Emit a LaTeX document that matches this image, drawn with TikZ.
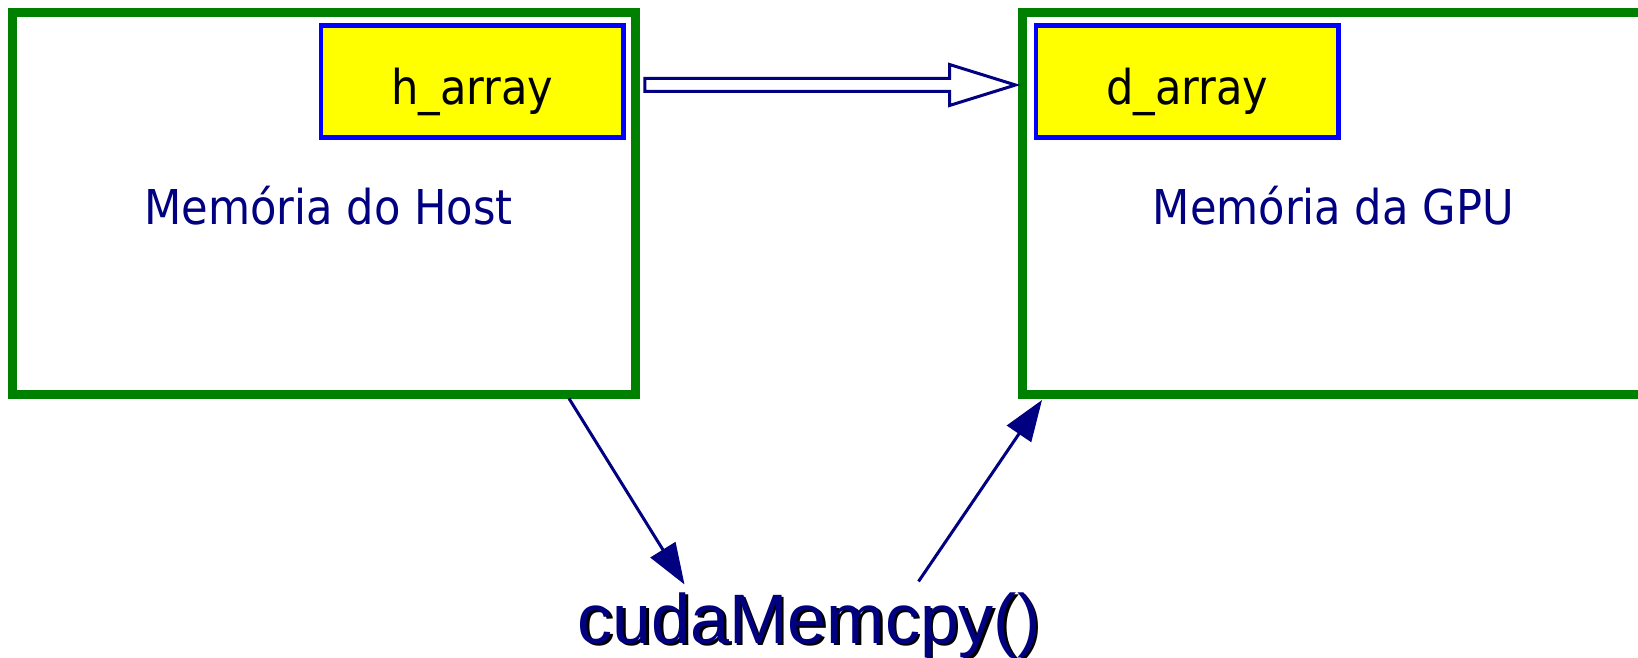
\documentclass[tikz,border=0pt]{standalone}
\usepackage{fontspec}
\usetikzlibrary{arrows.meta,positioning}

\setmainfont{DejaVu Sans Condensed}
\newfontfamily\arialfont{Liberation Sans}

\definecolor{memgreen}{RGB}{0,128,0}
\definecolor{arrblue}{RGB}{0,0,255}
\definecolor{arryellow}{RGB}{255,255,0}
\definecolor{navy}{RGB}{0,0,128}

\tikzset{
    membox/.style={draw=memgreen, line width=9pt, minimum width=622.5pt,
        minimum height=381.5pt, inner sep=0pt},
    arraybox/.style={draw=arrblue, fill=arryellow, line width=4.5pt,
        minimum width=302.5pt, minimum height=112pt, inner sep=0pt},
    arraytext/.style={anchor=base, inner sep=0pt, font=\fontsize{48}{58}\selectfont},
    memlabel/.style={anchor=base, inner sep=0pt, text=navy,
        font=\fontsize{48}{58}\selectfont},
    calltext/.style={anchor=base west, inner sep=0pt,
        font=\arialfont\fontsize{70}{80}\selectfont},
    hollowarrow/.style={draw=navy, fill=white, line width=3pt},
    flowarrow/.style={draw=navy, line width=3pt,
        -{Triangle[length=41pt,width=29pt]}}
}

\begin{document}
\begin{tikzpicture}[x=1pt,y=1pt]
    \useasboundingbox (0,0) rectangle (1638,657);

    % Draw the two memories
    \node[membox] (host) at (323.75,453.75) {};
    \node[membox, right=378pt of host] (gpu) {};

    % Arrays inside them
    \node[arraybox, below left=15.25pt and 13.75pt of host.north east] (harr) {};
    \node[arraybox, below right=15.25pt and 16.25pt of gpu.north west] (darr) {};
    \node[arraytext] (harrtxt) at ([yshift=-23pt]harr.center) {h\_array};
    \node[arraytext] (darrtxt) at ([yshift=-23pt]darr.center) {d\_array};

    % Label the memories
    \node[memlabel] (hostlbl) at ([xshift=5pt,yshift=-21.75pt]host.center) {Memória do Host};
    \node[memlabel] (gpulbl) at ([yshift=-21.75pt]gpu.center) {Memória da GPU};

    % Copy arrow between the arrays
    \coordinate (src) at ([xshift=5.3pt,yshift=118.25pt]host.east);
    \coordinate (dst) at ([xshift=-2pt,yshift=118.25pt]gpu.west);
    \draw[hollowarrow] ([yshift=6.5pt]src) -- ([xshift=-66pt,yshift=6.5pt]dst)
        -- ([xshift=-66pt,yshift=20.5pt]dst) -- (dst)
        -- ([xshift=-66pt,yshift=-20.5pt]dst) -- ([xshift=-66pt,yshift=-6.5pt]dst)
        -- ([yshift=-6.5pt]src) -- cycle;

    % The call, with its shadow
    \node[calltext, text=black] (cudashadow) at (580,11.5) {cudaMemcpy()};
    \node[calltext, text=navy] (cuda) at ([xshift=-2.5pt,yshift=2.5pt]cudashadow.base west) {cudaMemcpy()};

    % Arrows through the call
    \draw[flowarrow] ([xshift=-70.5pt]host.south east) -- ([xshift=107pt,yshift=7.6pt]cuda.north west);
    \draw[flowarrow] ([xshift=341pt,yshift=10.6pt]cuda.north west) -- ([xshift=24.5pt,yshift=-1.5pt]gpu.south west);

\end{tikzpicture}
\end{document}
